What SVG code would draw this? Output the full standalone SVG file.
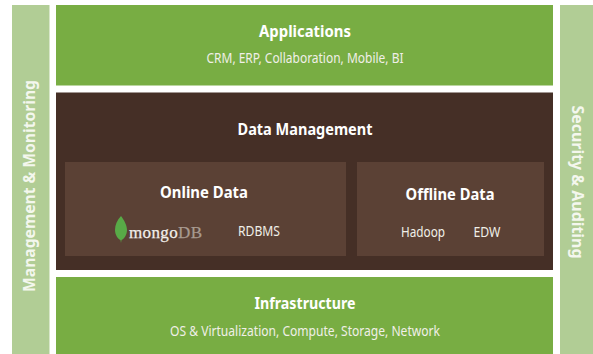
<svg xmlns="http://www.w3.org/2000/svg" width="593" height="354" viewBox="0 0 593 354">
<style>
text{font-family:"Noto Sans","Open Sans",sans-serif;fill:#fff;text-anchor:middle}
.h{font-size:16.500px;font-weight:700}
.s{font-size:13.500px;fill:#f0efe8}
.side{font-size:15.500px;font-weight:700;fill:#f4f7ee}
.g{fill:#78ad43}.b{fill:#b1cd95}.d{fill:#452f26}.p{fill:#5b4135}
.m{font-family:"Liberation Serif",serif;font-size:17px}
</style>
<rect width="593" height="354" fill="#fff"/>
<g id="management-monitoring"><rect class="b" x="12" y="5" width="37.500" height="349"/><text class="side" textLength="212" lengthAdjust="spacingAndGlyphs" transform="translate(35 186) rotate(-90)">Management &amp; Monitoring</text></g>
<g id="applications"><rect class="g" x="56" y="5" width="497" height="80.500"/><text class="h" x="305" y="37" textLength="92" lengthAdjust="spacingAndGlyphs">Applications</text><text class="s" x="305" y="63" textLength="197" lengthAdjust="spacingAndGlyphs">CRM, ERP, Collaboration, Mobile, BI</text></g>
<g id="data-management"><rect class="d" x="56" y="92.500" width="497" height="177.500"/><text class="h" x="305" y="135" textLength="135" lengthAdjust="spacingAndGlyphs">Data Management</text></g>
<g id="online-data"><rect class="p" x="65" y="162" width="281" height="94"/><text class="h" x="204" y="198" textLength="88" lengthAdjust="spacingAndGlyphs">Online Data</text>
<path d="M121 216C117 220 115 225 115 230C115 235 118 239 120.500 240L121 243L121.500 240C124 239 127 235 127 230C127 225 124 220 121 216Z" fill="#58aa47"/>
<text class="m" x="165.500" y="238" stroke="#f2efec" stroke-width="0.250" textLength="73" lengthAdjust="spacing"><tspan fill="#f2efec">mongo</tspan><tspan fill="#a89a90" stroke="#a89a90">DB</tspan></text>
<text class="s" x="259" y="236" textLength="42" lengthAdjust="spacingAndGlyphs">RDBMS</text></g>
<g id="offline-data"><rect class="p" x="357" y="162" width="187" height="94"/><text class="h" x="450" y="200" textLength="89" lengthAdjust="spacingAndGlyphs">Offline Data</text><text class="s" x="423" y="237" textLength="44" lengthAdjust="spacingAndGlyphs">Hadoop</text><text class="s" x="487" y="237" textLength="27" lengthAdjust="spacingAndGlyphs">EDW</text></g>
<g id="infrastructure"><rect class="g" x="56" y="277" width="497" height="77"/><text class="h" x="305" y="309" textLength="101" lengthAdjust="spacingAndGlyphs">Infrastructure</text><text class="s" x="305" y="336" textLength="270" lengthAdjust="spacingAndGlyphs">OS &amp; Virtualization, Compute, Storage, Network</text></g>
<g id="security-auditing"><rect class="b" x="560" y="5" width="33" height="349"/><text class="side" textLength="153" lengthAdjust="spacingAndGlyphs" transform="translate(572 182) rotate(90)">Security &amp; Auditing</text></g>
<g id="connectors"></g>
</svg>
